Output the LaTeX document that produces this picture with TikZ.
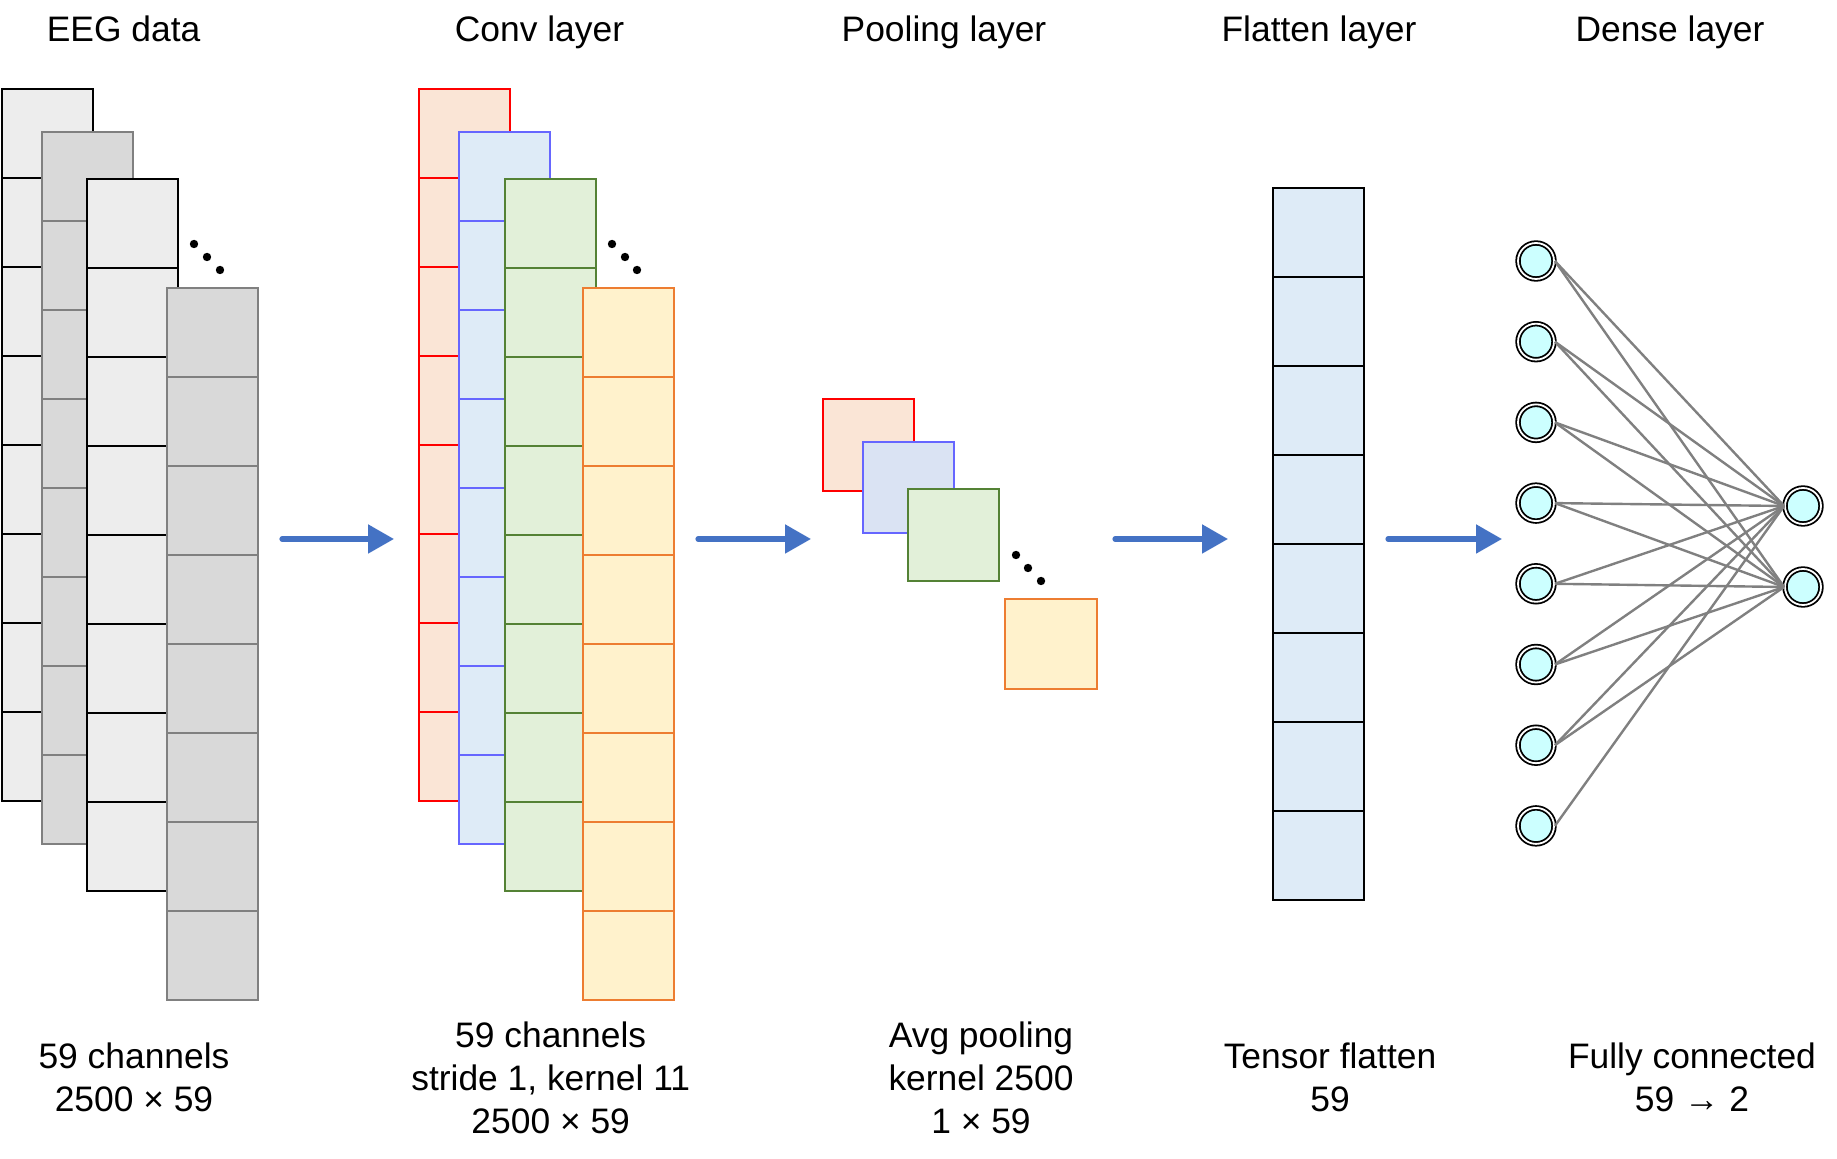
\documentclass[tikz,border=0pt]{standalone}
\usepackage{fontspec}
\setmainfont{Liberation Sans}
\usepackage{tikz}
\usetikzlibrary{arrows.meta}

\definecolor{eeglight}{HTML}{EDEDED}
\definecolor{eegdark}{HTML}{D9D9D9}
\definecolor{eegedge}{HTML}{808080}
\definecolor{redfill}{HTML}{FAE5D6}
\definecolor{bluefill}{HTML}{DEEBF7}
\definecolor{blueedge}{HTML}{6666FF}
\definecolor{poolblue}{HTML}{DAE3F3}
\definecolor{greenfill}{HTML}{E2F0D9}
\definecolor{greenedge}{HTML}{548235}
\definecolor{orangefill}{HTML}{FFF2CC}
\definecolor{orangeedge}{HTML}{ED7D31}
\definecolor{flowblue}{HTML}{4472C4}
\definecolor{neuroncol}{HTML}{CCFFFF}

% one column of 8 cells, top left corner at (#1,#2)
\newcommand{\cellstack}[3]{%
	\foreach \k in {0,...,7}
		\draw[#3] (#1,#2+\k*89) rectangle ++(91,89);
}

\begin{document}
\begin{tikzpicture}[x=0.5pt, y=-0.5pt,
	every node/.style={font=\fontsize{17.7}{21.5}\selectfont},
	cell/.style={line width=1.45pt},
	eegA/.style={cell, draw=black, fill=eeglight},
	eegB/.style={cell, draw=eegedge, fill=eegdark},
	convR/.style={cell, draw=red, fill=redfill},
	convB/.style={cell, draw=blueedge, fill=bluefill},
	convG/.style={cell, draw=greenedge, fill=greenfill},
	convO/.style={cell, draw=orangeedge, fill=orangefill},
	flat/.style={cell, draw=black, fill=bluefill},
	flow/.style={draw=flowblue, line width=2.6pt, line cap=round, -{Triangle[length=13pt,width=14pt]}},
	neuron/.style={circle, draw=black, double=white, double distance=0.9pt, line width=0.9pt, fill=neuroncol, minimum size=18pt, inner sep=0pt},
	wire/.style={draw=eegedge, line width=1.2pt},
	caption/.style={align=center, anchor=north, inner sep=0pt}]
	\useasboundingbox (0,0) rectangle (1837,1159);
	
	% Titles
	\node[anchor=base] (eegtitle) at (123.6,42) {EEG data};
	\node[anchor=base] (convtitle) at (539.5,42) {Conv layer};
	\node[anchor=base] (pooltitle) at (944,42) {Pooling layer};
	\node[anchor=base] (flattitle) at (1319,42) {Flatten layer};
	\node[anchor=base] (densetitle) at (1670,42) {Dense layer};
	
	% EEG data
	\cellstack{2}{89}{eegA}
	\cellstack{42}{132}{eegB}
	\cellstack{87}{179}{eegA}
	\fill (194,244) circle (2.1pt) (207,257) circle (2.1pt) (220,270) circle (2.1pt);
	\cellstack{167}{288}{eegB}
	
	% Conv layer
	\cellstack{419}{89}{convR}
	\cellstack{459}{132}{convB}
	\cellstack{505}{179}{convG}
	\fill (612,244) circle (2.1pt) (625,257) circle (2.1pt) (637,270) circle (2.1pt);
	\cellstack{583}{288}{convO}
	
	% Pooling layer
	\draw[convR] (823,399) rectangle ++(91,92);
	\draw[convB, fill=poolblue] (863,442) rectangle ++(91,91);
	\draw[convG] (908,489) rectangle ++(91,92);
	\fill (1016,555) circle (2.1pt) (1028,568) circle (2.1pt) (1041,581) circle (2.1pt);
	\draw[convO] (1005,599) rectangle ++(92,90);
	
	% Flatten layer
	\cellstack{1273}{188}{flat}
	
	% Dense layer
	\foreach \i in {1,...,8}
		\node[neuron] (in\i) at (1536,180.3+80.7*\i) {};
	\node[neuron] (out1) at (1803,506) {};
	\node[neuron] (out2) at (1803,587) {};
	\foreach \i in {1,...,8}
		\draw[wire] (in\i.east) -- (out1.west);
	\foreach \i in {1,...,7}
		\draw[wire] (in\i.east) -- (out2.west);
	
	% Arrows between layers
	\coordinate (a1) at (282,539);
	\coordinate (b1) at (394,539);
	\coordinate (a2) at (698,539);
	\coordinate (b2) at (811,539);
	\coordinate (a3) at (1115,539);
	\coordinate (b3) at (1228,539);
	\coordinate (a4) at (1388,539);
	\coordinate (b4) at (1502,539);
	\draw[flow] (a1) -- (b1);
	\draw[flow] (a2) -- (b2);
	\draw[flow] (a3) -- (b3);
	\draw[flow] (a4) -- (b4);
	
	% Captions
	\node[caption] (eegcap) at (134,1042.4) {59 channels\\2500 × 59};
	\node[caption] (convcap) at (550.7,1021.4) {59 channels\\stride 1, kernel 11\\2500 × 59};
	\node[caption] (poolcap) at (981,1021.4) {Avg pooling\\kernel 2500\\1 × 59};
	\node[caption] (flatcap) at (1330,1042.4) {Tensor flatten\\59};
	\node[caption] (densecap) at (1692,1042.4) {Fully connected\\59 → 2};
\end{tikzpicture}
\end{document}
